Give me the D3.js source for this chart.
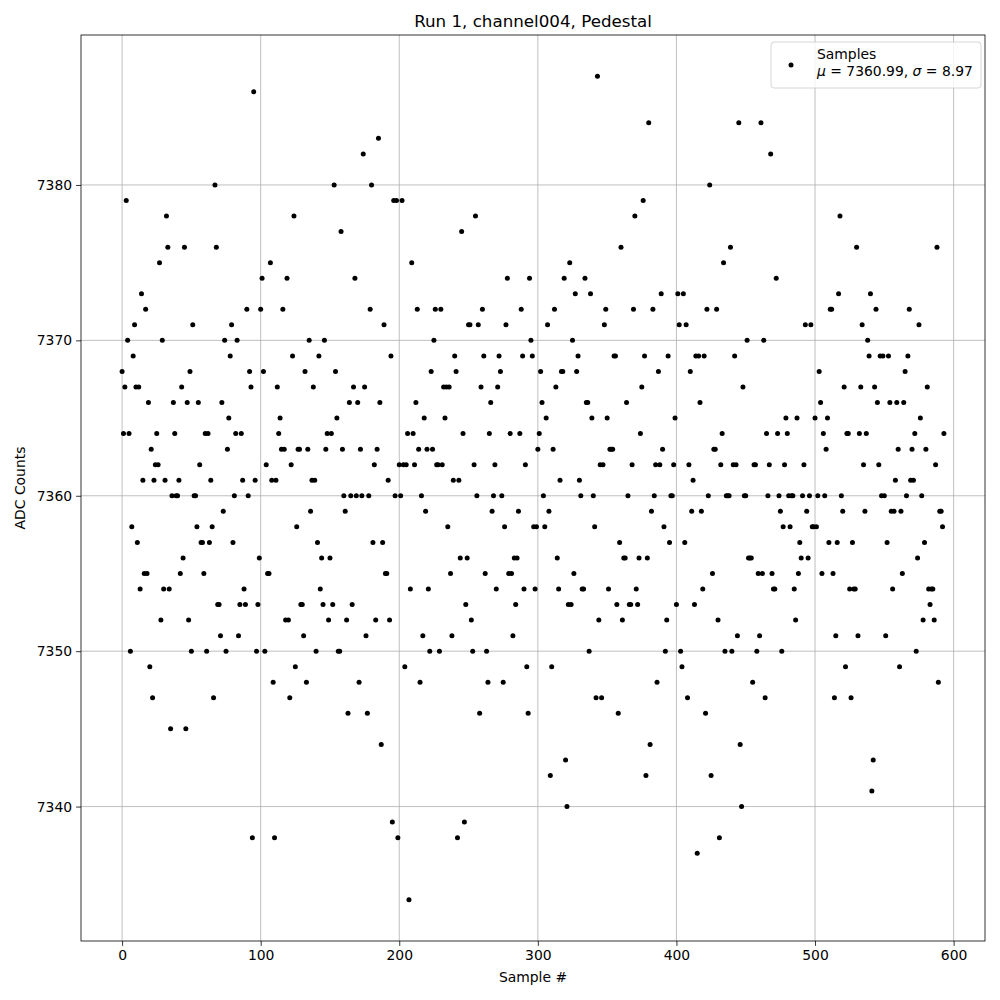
<!DOCTYPE html>
<html>
<head>
<meta charset="utf-8">
<script src="https://cdn.jsdelivr.net/npm/d3@7"></script>
<style>
  body { margin: 0; background: #fff; }
  svg text { font-family: "DejaVu Sans", sans-serif; fill: #000; }
</style>
</head>
<body>
<script>
// ADC counts per sample, samples 0..593 in order
var adcCounts = [
  7368,7364,7367,7379,7370,7364,7350,7358,7369,7371,
  7367,7357,7367,7354,7373,7361,7355,7372,7355,7366,
  7349,7363,7347,7361,7362,7364,7362,7375,7352,7370,
  7354,7361,7378,7376,7354,7345,7360,7366,7364,7360,
  7360,7361,7355,7367,7356,7376,7345,7366,7352,7368,
  7350,7371,7360,7360,7358,7366,7362,7357,7357,7355,
  7364,7350,7364,7357,7361,7358,7347,7380,7376,7353,
  7353,7351,7366,7359,7370,7350,7363,7365,7369,7371,
  7357,7360,7364,7370,7351,7353,7364,7361,7354,7353,
  7372,7360,7368,7367,7338,7386,7361,7350,7353,7356,
  7372,7374,7368,7350,7362,7355,7355,7375,7361,7348,
  7338,7361,7367,7364,7365,7363,7372,7363,7352,7374,
  7352,7347,7362,7369,7378,7349,7358,7363,7363,7353,
  7353,7351,7368,7348,7363,7370,7359,7361,7367,7361,
  7350,7357,7369,7354,7356,7353,7370,7363,7364,7352,
  7356,7364,7353,7380,7368,7365,7350,7350,7377,7363,
  7360,7359,7352,7346,7366,7360,7353,7367,7374,7360,
  7366,7348,7363,7360,7382,7367,7351,7346,7360,7372,
  7380,7357,7362,7352,7363,7383,7366,7344,7357,7371,
  7355,7355,7361,7352,7369,7339,7379,7360,7379,
  7338,7362,7360,7379,7362,7349,7362,7364,7334,7354,
  7375,7364,7362,7366,7372,7363,7348,7360,7351,7365,
  7359,7363,7354,7350,7368,7363,7370,7372,7362,7362,
  7350,7372,7362,7367,7365,7367,7358,7367,7355,7351,
  7361,7369,7368,7338,7361,7356,7377,7364,7339,7353,
  7356,7371,7371,7352,7350,7362,7378,7360,7371,7346,
  7367,7372,7369,7355,7350,7348,7364,7366,7359,7360,
  7362,7354,7367,7369,7368,7360,7348,7358,7371,7374,
  7355,7364,7355,7351,7356,7353,7356,7359,7364,7372,
  7369,7354,7362,7349,7346,7374,7370,7369,7358,7354,
  7358,7363,7364,7368,7366,7360,7358,7365,7371,7359,
  7342,7349,7363,7372,7367,7356,7354,7361,7368,7368,
  7374,7343,7340,7353,7375,7353,7370,7355,7373,7368,
  7369,7361,7360,7354,7354,7374,7366,7366,7350,7373,
  7365,7360,7358,7347,7387,7352,7362,7347,7362,7371,
  7372,7365,7354,7363,7363,7363,7369,7369,7353,7346,
  7357,7376,7352,7356,7356,7366,7360,7353,7353,7362,
  7372,7378,7354,7353,7356,7364,7367,7379,7369,7342,
  7356,7384,7344,7359,7372,7360,7362,7348,7368,7362,
  7373,7363,7358,7350,7352,7369,7357,7360,7360,7362,
  7365,7353,7373,7371,7350,7349,7373,7357,7371,7347,
  7362,7368,7359,7361,7353,7369,7337,7369,7366,7359,
  7354,7369,7346,7372,7360,7380,7342,7355,7363,7363,
  7372,7352,7338,7362,7364,7375,7350,7360,7360,7360,
  7376,7350,7362,7369,7362,7351,7384,7344,7340,7367,
  7360,7360,7370,7356,7356,7356,7348,7362,7362,7350,
  7355,7351,7384,7355,7370,7347,7364,7360,7362,7382,
  7355,7354,7354,7374,7364,7360,7359,7350,7358,7362,
  7365,7364,7360,7358,7360,7360,7354,7352,7365,7355,
  7357,7356,7360,7362,7371,7359,7356,7360,7371,7358,
  7358,7365,7358,7360,7368,7366,7355,7364,7360,7363,
  7365,7357,7372,7372,7355,7347,7351,7357,7373,7378,
  7360,7359,7367,7349,7364,7364,7354,7347,7357,7354,
  7354,7376,7351,7364,7367,7371,7362,7359,7364,7370,
  7369,7373,7341,7343,7367,7372,7366,7362,7369,7360,
  7369,7360,7351,7357,7369,7366,7359,7354,7359,7361,
  7366,7363,7349,7359,7355,7366,7368,7360,7369,7372,
  7361,7363,7361,7364,7350,7356,7371,7365,7360,7352,
  7357,7363,7367,7354,7353,7354,7354,7352,7362,7376,
  7348,7359,7359,7358,7364
];

var xTicks = [0, 100, 200, 300, 400, 500, 600];
var yTicks = [7340, 7350, 7360, 7370, 7380];

var chartTitle = 'Run 1, channel004, Pedestal';
var xLabel = 'Sample #';
var yLabel = 'ADC Counts';
var legendName = 'Samples';
var legendMu = '7360.99';
var legendSigma = '8.97';

window.onload = function(){
    var width = 1000,
        height = 1000,
        plotLeft = 81,
        plotRight = 985,
        plotTop = 35,
        plotBottom = 941;

    var svg = d3.select('body')
        .append('svg')
        .attr('width', width)
        .attr('height', height);

    // matplotlib style 5% margins around the data
    var n = adcCounts.length;
    var xPad = (n - 1) * 0.05;
    var yMin = d3.min(adcCounts), yMax = d3.max(adcCounts);
    var yPad = (yMax - yMin) * 0.05;

    var x = d3.scaleLinear()
        .domain([-xPad, n - 1 + xPad])
        .range([plotLeft, plotRight]);

    var y = d3.scaleLinear()
        .domain([yMin - yPad, yMax + yPad])
        .range([plotBottom, plotTop]);

    // grid
    svg.append('g')
        .selectAll('line')
        .data(xTicks)
        .enter()
        .append('line')
        .attr('x1', function(d){ return x(d); })
        .attr('x2', function(d){ return x(d); })
        .attr('y1', plotTop)
        .attr('y2', plotBottom)
        .attr('stroke', '#b0b0b0')
        .attr('stroke-width', 0.8);

    svg.append('g')
        .selectAll('line')
        .data(yTicks)
        .enter()
        .append('line')
        .attr('x1', plotLeft)
        .attr('x2', plotRight)
        .attr('y1', function(d){ return y(d); })
        .attr('y2', function(d){ return y(d); })
        .attr('stroke', '#b0b0b0')
        .attr('stroke-width', 0.8);

    // points
    svg.append('g')
        .selectAll('circle')
        .data(adcCounts)
        .enter()
        .append('circle')
        .attr('cx', function(d, i){ return x(i); })
        .attr('cy', function(d){ return y(d); })
        .attr('r', 2.5)
        .attr('fill', '#000');

    // axes
    var xAxis = d3.axisBottom(x).tickValues(xTicks).tickSize(4.9).tickPadding(4);
    var yAxis = d3.axisLeft(y).tickValues(yTicks).tickSize(4.9).tickPadding(4).tickFormat(d3.format('d'));

    var gx = svg.append('g')
        .attr('transform', 'translate(0,' + plotBottom + ')')
        .call(xAxis);
    var gy = svg.append('g')
        .attr('transform', 'translate(' + plotLeft + ',0)')
        .call(yAxis);

    [gx, gy].forEach(function(g){
        g.select('.domain').remove();
        g.selectAll('line').attr('stroke', '#000').attr('stroke-width', 0.8);
        g.selectAll('text')
            .style('font-family', '"DejaVu Sans", sans-serif')
            .style('font-size', '13.9px')
            .attr('fill', '#000');
    });

    // frame
    svg.append('rect')
        .attr('x', plotLeft)
        .attr('y', plotTop)
        .attr('width', plotRight - plotLeft)
        .attr('height', plotBottom - plotTop)
        .attr('fill', 'none')
        .attr('stroke', '#000')
        .attr('stroke-width', 0.8);

    // title and labels
    svg.append('text')
        .attr('x', (plotLeft + plotRight) / 2)
        .attr('y', 27)
        .attr('text-anchor', 'middle')
        .style('font-size', '16.7px')
        .text(chartTitle);

    svg.append('text')
        .attr('x', (plotLeft + plotRight) / 2)
        .attr('y', 982)
        .attr('text-anchor', 'middle')
        .style('font-size', '13.9px')
        .text(xLabel);

    svg.append('text')
        .attr('transform', 'translate(25,' + (plotTop + plotBottom) / 2 + ') rotate(-90)')
        .attr('text-anchor', 'middle')
        .style('font-size', '13.9px')
        .text(yLabel);

    // legend
    var legend = svg.append('g');
    legend.append('rect')
        .attr('x', 771)
        .attr('y', 42)
        .attr('width', 210)
        .attr('height', 46)
        .attr('rx', 3)
        .attr('fill', 'rgba(255,255,255,0.8)')
        .attr('stroke', '#cccccc')
        .attr('stroke-width', 0.8);

    legend.append('circle')
        .attr('cx', 791)
        .attr('cy', 65)
        .attr('r', 2.5)
        .attr('fill', '#000');

    legend.append('text')
        .attr('x', 817)
        .attr('y', 59)
        .style('font-size', '13.9px')
        .text(legendName);

    var line2 = legend.append('text')
        .attr('x', 817)
        .attr('y', 76)
        .style('font-size', '13.9px');
    line2.append('tspan').style('font-style', 'italic').text('\u03bc');
    line2.append('tspan').text(' = ' + legendMu + ', ');
    line2.append('tspan').style('font-style', 'italic').text('\u03c3');
    line2.append('tspan').text(' = ' + legendSigma);
};
</script>
</body>
</html>
